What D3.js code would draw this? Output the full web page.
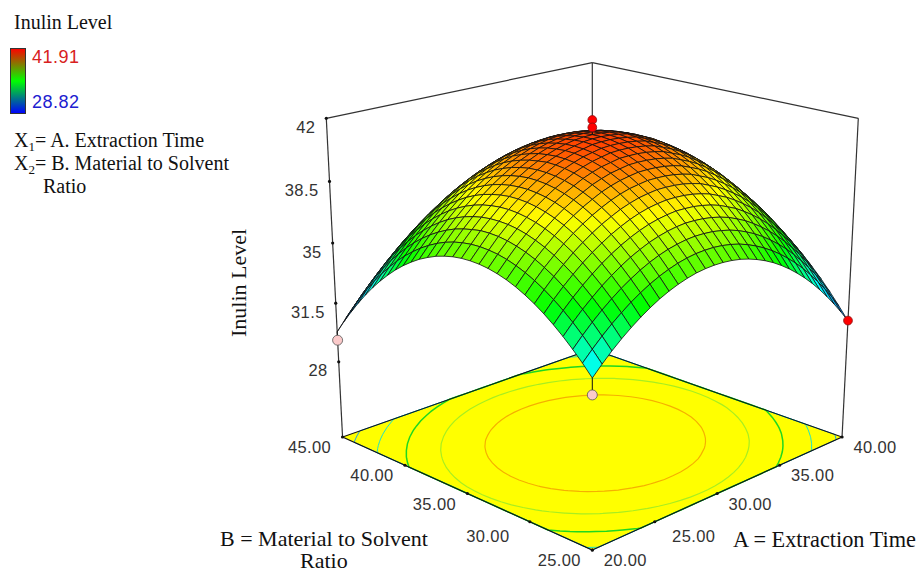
<!DOCTYPE html>
<html>
<head>
<meta charset="utf-8">
<script src="https://cdn.jsdelivr.net/npm/d3@7"></script>
<style>
  html, body { margin: 0; background: #fff; }
  svg { display: block; }
  .serif { font-family: "Liberation Serif", serif; fill: #111; }
  .sans { font-family: "Liberation Sans", sans-serif; }
</style>
</head>
<body>
<div id="chart"></div>
<script>
// axis ticks
let aTicks = [20, 25, 30, 35, 40];
let bTicks = [25, 30, 35, 40, 45];
let zTicks = [28, 31.5, 35, 38.5, 42];

// floor contours
let contourLevels = [31, 33, 35, 37, 39];
let contourColors = ["#1ea5e6", "#1fe0c8", "#1fd81f", "#a8ee20", "#f5b000"];
let contourWidths = [1, 1, 1.5, 1.2, 1.2];

// design points (runs) shown as dots
let designA = [30, 30, 20, 40, 20];
let designB = [35, 35, 45, 25, 25];
let designZ = [41.91, 41.5, 29.3, 30.47, 31.77];
let designAbove = [true, true, false, true, false];

// surface heights, one row per B step (25 to 45), one column per A step (20 to 40)
let surface = [
  [32.65,33.19,33.69,34.14,34.55,34.92,35.25,35.54,35.78,35.98,36.14,36.26,36.33,36.36,36.35,36.30,36.21,36.07,35.89,35.67,35.41,35.10,34.75,34.36,33.93,33.46,32.94,32.38,31.78,31.14,30.45],
  [33.24,33.78,34.28,34.74,35.15,35.53,35.86,36.15,36.40,36.60,36.77,36.89,36.97,37.00,37.00,36.95,36.86,36.73,36.55,36.33,36.07,35.77,35.43,35.04,34.62,34.15,33.63,33.08,32.48,31.84,31.16],
  [33.77,34.32,34.83,35.29,35.71,36.09,36.42,36.72,36.97,37.18,37.35,37.47,37.56,37.60,37.59,37.55,37.46,37.34,37.17,36.95,36.70,36.40,36.06,35.68,35.26,34.79,34.28,33.73,33.14,32.50,31.83],
  [34.26,34.82,35.33,35.79,36.22,36.60,36.94,37.24,37.49,37.71,37.88,38.01,38.10,38.15,38.14,38.10,38.02,37.90,37.74,37.52,37.28,36.98,36.64,36.27,35.85,35.39,34.88,34.34,33.75,33.11,32.45],
  [34.70,35.27,35.78,36.25,36.68,37.07,37.41,37.71,37.97,38.19,38.37,38.50,38.59,38.65,38.64,38.61,38.53,38.42,38.26,38.04,37.81,37.51,37.18,36.81,36.40,35.94,35.43,34.90,34.31,33.68,33.02],
  [35.10,35.67,36.19,36.66,37.10,37.49,37.83,38.14,38.40,38.63,38.81,38.95,39.04,39.10,39.10,39.07,39.00,38.89,38.74,38.52,38.29,38.00,37.67,37.31,36.90,36.44,35.94,35.41,34.83,34.20,33.55],
  [35.45,36.02,36.55,37.02,37.47,37.86,38.21,38.52,38.78,39.02,39.20,39.35,39.44,39.51,39.51,39.48,39.42,39.31,39.17,38.95,38.72,38.44,38.11,37.76,37.35,36.90,36.40,35.87,35.30,34.67,34.03],
  [35.75,36.33,36.86,37.34,37.79,38.19,38.54,38.85,39.12,39.36,39.55,39.70,39.79,39.87,39.87,39.85,39.79,39.69,39.55,39.33,39.11,38.83,38.51,38.16,37.76,37.31,36.81,36.29,35.72,35.10,34.46],
  [36.01,36.59,37.13,37.61,38.06,38.47,38.82,39.14,39.41,39.66,39.85,40.00,40.10,40.18,40.19,40.17,40.11,40.02,39.88,39.67,39.45,39.18,38.86,38.51,38.12,37.67,37.18,36.66,36.10,35.48,34.84],
  [36.22,36.80,37.35,37.83,38.29,38.70,39.06,39.38,39.65,39.91,40.10,40.26,40.36,40.45,40.46,40.44,40.39,40.30,40.17,39.96,39.74,39.48,39.16,38.82,38.43,37.99,37.50,36.98,36.43,35.81,35.18],
  [36.38,36.97,37.52,38.01,38.47,38.88,39.25,39.57,39.85,40.11,40.31,40.47,40.57,40.67,40.68,40.67,40.62,40.53,40.41,40.20,39.99,39.73,39.42,39.08,38.69,38.26,37.77,37.26,36.71,36.10,35.47],
  [36.50,37.09,37.65,38.14,38.60,39.02,39.39,39.72,40.00,40.27,40.47,40.63,40.74,40.84,40.86,40.85,40.80,40.72,40.60,40.40,40.19,39.94,39.63,39.29,38.91,38.48,38.00,37.49,36.95,36.34,35.71],
  [36.57,37.16,37.73,38.22,38.69,39.11,39.48,39.82,40.10,40.38,40.58,40.75,40.86,40.96,40.99,40.98,40.94,40.86,40.75,40.55,40.34,40.10,39.79,39.46,39.08,38.65,38.18,37.67,37.14,36.53,35.91],
  [36.59,37.19,37.76,38.25,38.73,39.15,39.53,39.87,40.16,40.44,40.64,40.82,40.93,41.04,41.07,41.07,41.03,40.95,40.85,40.65,40.45,40.21,39.91,39.58,39.20,38.78,38.31,37.81,37.28,36.67,36.06],
  [36.57,37.17,37.75,38.24,38.72,39.15,39.53,39.88,40.17,40.46,40.66,40.84,40.96,41.07,41.11,41.11,41.07,41.00,40.90,40.71,40.51,40.28,39.98,39.65,39.28,38.86,38.40,37.90,37.38,36.77,36.16],
  [36.50,37.10,37.66,38.18,38.66,39.09,39.48,39.83,40.14,40.40,40.62,40.80,40.94,41.04,41.09,41.10,41.07,41.00,40.88,40.72,40.52,40.28,40.00,39.67,39.30,38.89,38.44,37.94,37.40,36.82,36.20],
  [36.38,36.99,37.55,38.07,38.56,38.99,39.39,39.74,40.05,40.32,40.55,40.73,40.87,40.97,41.03,41.05,41.02,40.95,40.84,40.68,40.49,40.25,39.97,39.65,39.28,38.88,38.43,37.94,37.40,36.83,36.21],
  [36.22,36.83,37.40,37.92,38.41,38.85,39.25,39.60,39.92,40.19,40.42,40.61,40.76,40.86,40.92,40.94,40.92,40.86,40.75,40.60,40.41,40.17,39.90,39.58,39.22,38.82,38.37,37.88,37.36,36.78,36.17],
  [36.00,36.62,37.19,37.72,38.21,38.66,39.06,39.42,39.74,40.02,40.25,40.45,40.60,40.71,40.77,40.79,40.78,40.72,40.61,40.47,40.28,40.05,39.78,39.46,39.11,38.71,38.27,37.79,37.26,36.69,36.08],
  [35.75,36.36,36.94,37.48,37.97,38.42,38.83,39.19,39.52,39.80,40.04,40.23,40.39,40.50,40.57,40.60,40.58,40.53,40.43,40.29,40.10,39.88,39.61,39.30,38.95,38.56,38.12,37.64,37.12,36.56,35.95],
  [35.44,36.06,36.64,37.18,37.68,38.13,38.55,38.92,39.24,39.53,39.77,39.97,40.13,40.25,40.32,40.36,40.35,40.29,40.20,40.06,39.88,39.66,39.40,39.09,38.75,38.36,37.92,37.45,36.93,36.37,35.77],
  [35.09,35.71,36.30,36.84,37.34,37.80,38.22,38.59,38.93,39.21,39.46,39.67,39.83,39.95,40.03,40.07,40.06,40.01,39.92,39.79,39.62,39.40,39.14,38.84,38.49,38.11,37.68,37.21,36.70,36.14,35.55],
  [34.69,35.32,35.91,36.45,36.96,37.42,37.84,38.22,38.56,38.85,39.10,39.31,39.48,39.61,39.69,39.73,39.73,39.68,39.60,39.47,39.30,39.09,38.83,38.53,38.20,37.81,37.39,36.92,36.42,35.87,35.27],
  [34.24,34.88,35.47,36.02,36.53,37.00,37.42,37.81,38.15,38.44,38.70,38.91,39.09,39.22,39.30,39.35,39.35,39.31,39.23,39.10,38.94,38.73,38.48,38.19,37.85,37.47,37.06,36.59,36.09,35.54,34.95],
  [33.75,34.39,34.98,35.54,36.05,36.53,36.95,37.34,37.69,37.99,38.25,38.47,38.64,38.78,38.87,38.92,38.92,38.89,38.81,38.69,38.53,38.32,38.08,37.79,37.46,37.09,36.67,36.21,35.71,35.17,34.59],
  [33.21,33.85,34.45,35.01,35.53,36.01,36.44,36.83,37.18,37.49,37.75,37.97,38.15,38.29,38.39,38.44,38.45,38.42,38.35,38.23,38.07,37.87,37.63,37.35,37.02,36.65,36.24,35.79,35.29,34.75,34.17],
  [32.62,33.27,33.87,34.44,34.96,35.44,35.88,36.27,36.63,36.94,37.21,37.43,37.62,37.76,37.86,37.92,37.93,37.90,37.83,37.72,37.57,37.37,37.14,36.86,36.53,36.17,35.76,35.31,34.82,34.29,33.71],
  [31.98,32.64,33.25,33.82,34.34,34.83,35.27,35.67,36.03,36.34,36.61,36.84,37.03,37.18,37.28,37.34,37.36,37.34,37.28,37.17,37.02,36.83,36.60,36.32,36.00,35.64,35.24,34.79,34.31,33.78,33.20],
  [31.30,31.96,32.58,33.15,33.68,34.17,34.61,35.02,35.38,35.70,35.97,36.21,36.40,36.55,36.66,36.73,36.75,36.73,36.67,36.57,36.42,36.24,36.01,35.73,35.42,35.06,34.67,34.22,33.74,33.22,32.65],
  [30.58,31.24,31.86,32.43,32.97,33.46,33.91,34.32,34.68,35.01,35.29,35.53,35.73,35.88,35.99,36.06,36.09,36.08,36.02,35.92,35.78,35.60,35.37,35.10,34.79,34.44,34.05,33.61,33.13,32.61,32.05],
  [29.80,30.47,31.09,31.67,32.21,32.71,33.16,33.57,33.94,34.27,34.56,34.80,35.00,35.16,35.28,35.35,35.38,35.37,35.32,35.23,35.09,34.91,34.69,34.43,34.12,33.77,33.38,32.95,32.48,31.96,31.40]
];

let width = 917;
let height = 572;
let steps = surface.length - 1;

// grid index to factor value, factor value to cube coordinates
let aAt = d3.scaleLinear().domain([0, steps]).range([20, 40]);
let bAt = d3.scaleLinear().domain([0, steps]).range([25, 45]);
let xScale = d3.scaleLinear().domain([20, 40]).range([-1, 1]);
let yScale = d3.scaleLinear().domain([25, 45]).range([-1, 1]);
let zScale = d3.scaleLinear().domain([23.4, 42]).range([0, 1]);
let floorZ = zScale.domain()[0];

let color = d3
  .scaleLinear()
  .domain([28.82, 33, 35.365, 38.64, 41.91])
  .range(["#0000ff", "#00ffff", "#00ff00", "#ffff00", "#ff0000"]);

// perspective view of the cube, fitted to its corners in the picture
function project(a, b, z) {
  let x = xScale(a);
  let y = yScale(b);
  let h = zScale(z);
  let s = (x - y) / 2;
  let d = (x + y) / 2;
  let w = 1 + 0.1244 * d - 0.0611 * h;
  return [592.3 + (249.75 * s) / w, (437 - 44.6 * d - 325.9 * h) / w];
}

let line = d3.line();

let svg = d3
  .select("#chart")
  .append("svg")
  .attr("width", width)
  .attr("height", height)
  .attr("viewBox", `0 0 ${width} ${height}`);

// back frame
let frame = [
  [[20, 45, 42], [40, 45, 42]],
  [[40, 45, 42], [40, 25, 42]],
  [[40, 45, 42], [40, 45, floorZ]],
  [[20, 45, 42], [20, 45, floorZ]],
  [[40, 25, 42], [40, 25, floorZ]]
];
svg
  .append("g")
  .selectAll("path")
  .data(frame)
  .join("path")
  .attr("d", d => line(d.map(p => project(...p))))
  .attr("fill", "none")
  .attr("stroke", "#333")
  .attr("stroke-width", 1.2);

// floor
let floorCorners = [[20, 25], [40, 25], [40, 45], [20, 45]];
let floorPath = line(floorCorners.map(p => project(p[0], p[1], floorZ))) + "Z";
svg.append("path").attr("d", floorPath).attr("fill", "#ffff00");

let clampGrid = d3.scaleLinear().domain([0, steps]).range([0, steps]).clamp(true);
let contours = d3
  .contours()
  .size([steps + 1, steps + 1])
  .thresholds(contourLevels)(surface.flat());

svg
  .append("g")
  .selectAll("path")
  .data(contours)
  .join("path")
  .attr("d", c =>
    c.coordinates
      .flat()
      .map(ring =>
        line(
          ring.map(p =>
            project(aAt(clampGrid(p[0] - 0.5)), bAt(clampGrid(p[1] - 0.5)), floorZ)
          )
        )
      )
      .join("")
  )
  .attr("fill", "none")
  .attr("stroke", (c, i) => contourColors[i])
  .attr("stroke-width", (c, i) => contourWidths[i]);

svg
  .append("path")
  .attr("d", floorPath)
  .attr("fill", "none")
  .attr("stroke", "#111")
  .attr("stroke-width", 1.1);

// surface cells, far ones first so the near ones cover them
let cells = [];
for (let j = 0; j < steps; j++) {
  for (let i = 0; i < steps; i++) {
    cells.push({ i: i, j: j });
  }
}
cells.sort((p, q) => q.i + q.j - (p.i + p.j));

svg
  .append("g")
  .selectAll("path")
  .data(cells)
  .join("path")
  .attr("d", c => {
    let corners = [[c.i, c.j], [c.i + 1, c.j], [c.i + 1, c.j + 1], [c.i, c.j + 1]];
    return line(corners.map(p => project(aAt(p[0]), bAt(p[1]), surface[p[1]][p[0]]))) + "Z";
  })
  .attr("fill", c =>
    color(
      (surface[c.j][c.i] + surface[c.j][c.i + 1] + surface[c.j + 1][c.i] + surface[c.j + 1][c.i + 1]) / 4
    )
  )
  .attr("stroke", "#111")
  .attr("stroke-width", 0.8);

// tick dots and labels on the floor run evenly along the edges
let front = project(20, 25, floorZ);
let right = project(40, 25, floorZ);
let left = project(20, 45, floorZ);
let aTickX = d3.scaleLinear().domain([20, 40]).range([front[0], right[0]]);
let aTickY = d3.scaleLinear().domain([20, 40]).range([front[1], right[1]]);
let bTickX = d3.scaleLinear().domain([25, 45]).range([front[0], left[0]]);
let bTickY = d3.scaleLinear().domain([25, 45]).range([front[1], left[1]]);
let tickFormat = d3.format(".2f");

let tickLabel = (g, x, y, anchor, label) =>
  g
    .append("text")
    .attr("class", "sans")
    .attr("x", x)
    .attr("y", y)
    .attr("text-anchor", anchor)
    .attr("font-size", 16.5)
    .attr("letter-spacing", 0.4)
    .attr("fill", "#333")
    .text(label);

let ticks = svg.append("g");
aTicks.forEach(a => {
  let x = aTickX(a);
  let y = aTickY(a);
  ticks.append("circle").attr("cx", x).attr("cy", y).attr("r", 1.6).attr("fill", "#111");
  // the label nearest the front sits further out in the reference
  let nudge = a == 25 ? [6, 4] : [0, 0];
  tickLabel(ticks, x + 33 + nudge[0], y + 16 + nudge[1], "middle", tickFormat(a));
});
bTicks.forEach(b => {
  let x = bTickX(b);
  let y = bTickY(b);
  ticks.append("circle").attr("cx", x).attr("cy", y).attr("r", 1.6).attr("fill", "#111");
  let nudge = b == 30 ? [-9, 4] : [0, 0];
  tickLabel(ticks, x - 33 + nudge[0], y + 16 + nudge[1], "middle", tickFormat(b));
});
zTicks.forEach(z => {
  let p = project(20, 45, z);
  ticks.append("circle").attr("cx", p[0]).attr("cy", p[1]).attr("r", 1.6).attr("fill", "#111");
  tickLabel(ticks, p[0] - 11, p[1] + 14.5, "end", z);
});

// design points with their stems to the surface
let points = svg.append("g");
designZ.forEach((z, n) => {
  let p = project(designA[n], designB[n], z);
  let i = Math.round(aAt.invert(designA[n]));
  let j = Math.round(bAt.invert(designB[n]));
  points
    .append("path")
    .attr("d", line([p, project(designA[n], designB[n], surface[j][i])]))
    .attr("stroke", "#111");
  points
    .append("circle")
    .attr("cx", p[0])
    .attr("cy", p[1])
    .attr("r", designAbove[n] ? 4.4 : 5)
    .attr("fill", designAbove[n] ? "#ff0000" : "#fbcaca")
    .attr("stroke", designAbove[n] ? "#8a1010" : "#555")
    .attr("stroke-width", 0.8);
});

// colour key
let gradient = svg
  .append("defs")
  .append("linearGradient")
  .attr("id", "key")
  .attr("x1", 0)
  .attr("x2", 0)
  .attr("y1", 0)
  .attr("y2", 1);
gradient.append("stop").attr("offset", "0%").attr("stop-color", "#ff0000");
gradient.append("stop").attr("offset", "50%").attr("stop-color", "#00ff00");
gradient.append("stop").attr("offset", "100%").attr("stop-color", "#0000ff");

svg
  .append("rect")
  .attr("x", 10.5)
  .attr("y", 48.5)
  .attr("width", 15)
  .attr("height", 65)
  .attr("fill", "url(#key)")
  .attr("stroke", "#333");

svg
  .append("text")
  .attr("class", "sans")
  .attr("x", 32)
  .attr("y", 63)
  .attr("font-size", 18)
  .attr("letter-spacing", 0.5)
  .attr("fill", "#d82020")
  .text("41.91");
svg
  .append("text")
  .attr("class", "sans")
  .attr("x", 32)
  .attr("y", 108)
  .attr("font-size", 18)
  .attr("letter-spacing", 0.5)
  .attr("fill", "#2020d0")
  .text("28.82");

// captions
let caption = (x, y, size, label) =>
  svg
    .append("text")
    .attr("class", "serif")
    .attr("x", x)
    .attr("y", y)
    .attr("font-size", size)
    .text(label);

caption(14, 29, 20, "Inulin Level");

let factor = (y, sub, label) => {
  let t = caption(14, y, 20, "X");
  t.append("tspan").attr("font-size", 13).attr("dy", 4).text(sub);
  t.append("tspan").attr("dy", -4).text("= " + label);
};
factor(147, "1", "A. Extraction Time");
factor(170, "2", "B. Material to Solvent");
caption(43, 193, 20, "Ratio");

caption(733, 547, 22.3, "A = Extraction Time");
caption(220, 546, 22, "B = Material to Solvent");
caption(300, 568, 22, "Ratio");

svg
  .append("text")
  .attr("class", "serif")
  .attr("transform", "translate(246,283) rotate(-90)")
  .attr("text-anchor", "middle")
  .attr("font-size", 22)
  .text("Inulin Level");
</script>
</body>
</html>
